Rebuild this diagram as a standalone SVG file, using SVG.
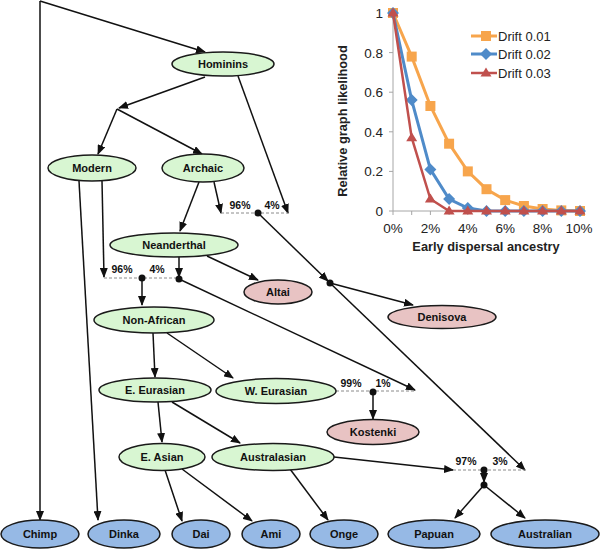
<svg xmlns="http://www.w3.org/2000/svg" width="600" height="551" viewBox="0 0 600 551">
<defs>
<marker id="ah" markerUnits="userSpaceOnUse" markerWidth="10" markerHeight="8" refX="9" refY="4" orient="auto">
<path d="M0,0 L10,4 L0,8 Z" fill="#111"/>
</marker>
</defs>
<style>
.n ellipse{stroke:#1a1a1a;stroke-width:1.5}
.g ellipse{fill:#d8f6d2}
.p ellipse{fill:#e8c3c3}
.b ellipse{fill:#96b9e5}
.n text{font-family:"Liberation Sans",Arial,sans-serif;font-weight:bold;font-size:11px;fill:#111;text-anchor:middle}
.e path{fill:none;stroke:#111;stroke-width:1.5}
.e .a{marker-end:url(#ah)}
.e .d{stroke:#8a8a8a;stroke-width:1;stroke-dasharray:3,2}
.e circle{fill:#111}
.pc{font-family:"Liberation Sans",Arial,sans-serif;font-weight:bold;font-size:10.5px;fill:#111;text-anchor:middle}
.ax{stroke:#a6a6a6;stroke-width:1;fill:none}
.tk{font-family:"Liberation Sans",Arial,sans-serif;font-size:13.5px;fill:#222}
.tt{font-family:"Liberation Sans",Arial,sans-serif;font-size:12.8px;font-weight:bold;fill:#222;text-anchor:middle}
.lg{font-family:"Liberation Sans",Arial,sans-serif;font-size:13px;fill:#222}
.s1{stroke:#f7a54c;fill:none;stroke-width:3}
.s2{stroke:#4f8bc9;fill:none;stroke-width:3}
.s3{stroke:#c0504d;fill:none;stroke-width:2.5}
</style>
<rect width="600" height="551" fill="#fff"/>

<g id="connectors" class="e">
<path class="a" d="M40,1 L40,520"/>
<path class="a" d="M40,1 L205,52"/>
<path class="a" d="M205,77 L119,108"/>
<path class="a" d="M117,109 L98,154"/>
<path class="a" d="M117,109 L202,154"/>
<path class="a" d="M238,76 L288,213"/>
<path class="a" d="M199,182 L180,231"/>
<path class="a" d="M214,182 L221,213"/>
<path class="d" d="M221,213 L288,213"/>
<circle cx="258" cy="213" r="3.5"/>
<path class="a" d="M258,213 L328,281"/>
<path class="a" d="M330,283 L413,305"/>
<path class="a" d="M330,283 L525,470"/>
<circle cx="330" cy="283" r="3.5"/>
<path class="a" d="M79,181 L98,520"/>
<path class="a" d="M102,181 L104,277"/>
<path class="d" d="M104,278 L179,278"/>
<circle cx="142" cy="278" r="3.5"/>
<path class="a" d="M179,257 L179,277"/>
<circle cx="179" cy="279" r="3.5"/>
<path class="a" d="M142,278 L142,305"/>
<path class="a" d="M179,279 L415,390"/>
<path class="a" d="M207,256 L258,280"/>
<path class="a" d="M153,333 L155,377"/>
<path class="a" d="M167,333 L233,378"/>
<path class="d" d="M336,391 L415,391"/>
<circle cx="373" cy="392" r="3.5"/>
<path class="a" d="M373,392 L373,419"/>
<path class="a" d="M158,402 L162,442"/>
<path class="a" d="M172,402 L240,443"/>
<path class="a" d="M165,470 L182,521"/>
<path class="a" d="M182,469 L252,521"/>
<path class="a" d="M290,469 L328,520"/>
<path class="a" d="M334,457 L453,470"/>
<path class="d" d="M453,470 L525,470"/>
<circle cx="484" cy="470" r="3.5"/>
<path class="a" d="M484,470 L484,482"/>
<circle cx="484" cy="485" r="3.5"/>
<path class="a" d="M484,485 L455,518"/>
<path class="a" d="M484,485 L525,518"/>
</g>

<g id="pct">
<text class="pc" x="240" y="209">96%</text>
<text class="pc" x="272" y="209">4%</text>
<text class="pc" x="122" y="273">96%</text>
<text class="pc" x="157" y="273">4%</text>
<text class="pc" x="351" y="387">99%</text>
<text class="pc" x="383" y="387">1%</text>
<text class="pc" x="466" y="465">97%</text>
<text class="pc" x="500" y="465">3%</text>
</g>

<g id="hominins" class="n g"><ellipse cx="223" cy="64" rx="51" ry="12"/><text x="223" y="68">Hominins</text></g>
<g id="modern" class="n g"><ellipse cx="92" cy="168" rx="44" ry="13"/><text x="92" y="172">Modern</text></g>
<g id="archaic" class="n g"><ellipse cx="203" cy="168" rx="41" ry="14"/><text x="203" y="172">Archaic</text></g>
<g id="neanderthal" class="n g"><ellipse cx="174" cy="245" rx="64" ry="12"/><text x="174" y="249">Neanderthal</text></g>
<g id="altai" class="n p"><ellipse cx="278" cy="292" rx="34" ry="12"/><text x="278" y="296">Altai</text></g>
<g id="denisova" class="n p"><ellipse cx="442" cy="317" rx="54" ry="11.5"/><text x="442" y="321">Denisova</text></g>
<g id="nonafrican" class="n g"><ellipse cx="154" cy="320" rx="60" ry="13"/><text x="154" y="324">Non-African</text></g>
<g id="eeurasian" class="n g"><ellipse cx="155" cy="390" rx="56" ry="12"/><text x="155" y="394">E. Eurasian</text></g>
<g id="weurasian" class="n g"><ellipse cx="276" cy="391" rx="60" ry="12.5"/><text x="276" y="395">W. Eurasian</text></g>
<g id="kostenki" class="n p"><ellipse cx="373" cy="432" rx="46" ry="12.5"/><text x="373" y="436">Kostenki</text></g>
<g id="easian" class="n g"><ellipse cx="162" cy="457" rx="43" ry="13.5"/><text x="162" y="461">E. Asian</text></g>
<g id="australasian" class="n g"><ellipse cx="273" cy="457" rx="61" ry="13.5"/><text x="273" y="461">Australasian</text></g>
<g id="chimp" class="n b"><ellipse cx="40" cy="534" rx="39" ry="14"/><text x="40" y="538">Chimp</text></g>
<g id="dinka" class="n b"><ellipse cx="124" cy="534" rx="36" ry="14"/><text x="124" y="538">Dinka</text></g>
<g id="dai" class="n b"><ellipse cx="201" cy="534" rx="29" ry="14"/><text x="201" y="538">Dai</text></g>
<g id="ami" class="n b"><ellipse cx="271" cy="534" rx="29" ry="14"/><text x="271" y="538">Ami</text></g>
<g id="onge" class="n b"><ellipse cx="344" cy="534" rx="34" ry="14"/><text x="344" y="538">Onge</text></g>
<g id="papuan" class="n b"><ellipse cx="434" cy="534" rx="46" ry="14"/><text x="434" y="538">Papuan</text></g>
<g id="australian" class="n b"><ellipse cx="545" cy="534" rx="54" ry="14"/><text x="545" y="538">Australian</text></g>

<g id="chart">
<path class="ax" d="M393,13 L393,211 L580,211"/>
<path class="ax" d="M389,13 H393 M389,52.6 H393 M389,92.2 H393 M389,131.8 H393 M389,171.4 H393 M389,211 H393"/>
<path class="ax" d="M393,211 V215 M411.7,211 V215 M430.4,211 V215 M449.1,211 V215 M467.8,211 V215 M486.5,211 V215 M505.2,211 V215 M523.9,211 V215 M542.6,211 V215 M561.3,211 V215 M580,211 V215"/>
<g class="tk" text-anchor="end">
<text x="383" y="18">1</text>
<text x="383" y="57.6">0.8</text>
<text x="383" y="97.2">0.6</text>
<text x="383" y="136.8">0.4</text>
<text x="383" y="176.4">0.2</text>
<text x="383" y="216">0</text>
</g>
<g class="tk" text-anchor="middle">
<text x="393" y="233">0%</text>
<text x="430.4" y="233">2%</text>
<text x="467.8" y="233">4%</text>
<text x="505.2" y="233">6%</text>
<text x="542.6" y="233">8%</text>
<text x="579" y="233">10%</text>
</g>
<text class="tt" x="486" y="251">Early dispersal ancestry</text>
<text class="tt" transform="translate(347,121) rotate(-90)">Relative graph likelihood</text>

<polyline class="s1" points="393,13 411.7,56.6 430.4,106 449.1,143.7 467.8,171.4 486.5,189.2 505.2,200.1 523.9,206 542.6,209 561.3,210.4 580,211"/>
<g fill="#f7a54c">
<rect x="388" y="8" width="10" height="10"/><rect x="406.7" y="51.6" width="10" height="10"/><rect x="425.4" y="101" width="10" height="10"/><rect x="444.1" y="138.7" width="10" height="10"/><rect x="462.8" y="166.4" width="10" height="10"/><rect x="481.5" y="184.2" width="10" height="10"/><rect x="500.2" y="195.1" width="10" height="10"/><rect x="518.9" y="201" width="10" height="10"/><rect x="537.6" y="204" width="10" height="10"/><rect x="556.3" y="205.4" width="10" height="10"/><rect x="575" y="206" width="10" height="10"/>
</g>
<polyline class="s2" points="393,13 411.7,100.1 430.4,169.4 449.1,199 467.8,208 486.5,211 505.2,211 523.9,211 542.6,211 561.3,211 580,211"/>
<g fill="#4f8bc9">
<path d="M393,7 l6,6 l-6,6 l-6,-6z M411.7,94.1 l6,6 l-6,6 l-6,-6z M430.4,163.4 l6,6 l-6,6 l-6,-6z M449.1,193 l6,6 l-6,6 l-6,-6z M467.8,202 l6,6 l-6,6 l-6,-6z M486.5,205 l6,6 l-6,6 l-6,-6z M505.2,205 l6,6 l-6,6 l-6,-6z M523.9,205 l6,6 l-6,6 l-6,-6z M542.6,205 l6,6 l-6,6 l-6,-6z M561.3,205 l6,6 l-6,6 l-6,-6z M580,205 l6,6 l-6,6 l-6,-6z"/>
</g>
<polyline class="s3" points="393,13 411.7,137.7 430.4,199 449.1,211 467.8,211 486.5,211 505.2,211 523.9,211 542.6,211 561.3,211 580,211"/>
<g fill="#c0504d">
<path d="M393,7.5 l5.5,9 h-11z M411.7,132.2 l5.5,9 h-11z M430.4,193.5 l5.5,9 h-11z M449.1,205.5 l5.5,9 h-11z M467.8,205.5 l5.5,9 h-11z M486.5,205.5 l5.5,9 h-11z M505.2,205.5 l5.5,9 h-11z M523.9,205.5 l5.5,9 h-11z M542.6,205.5 l5.5,9 h-11z M561.3,205.5 l5.5,9 h-11z M580,205.5 l5.5,9 h-11z"/>
</g>

<path class="s1" d="M471,36 H497"/>
<rect x="481" y="31" width="10" height="10" fill="#f7a54c"/>
<text class="lg" x="498" y="41">Drift 0.01</text>
<path class="s2" d="M471,54 H497"/>
<path d="M486,48 l6,6 l-6,6 l-6,-6z" fill="#4f8bc9"/>
<text class="lg" x="498" y="59">Drift 0.02</text>
<path class="s3" d="M471,73 H497"/>
<path d="M486,67.5 l5.5,9 h-11z" fill="#c0504d"/>
<text class="lg" x="498" y="78">Drift 0.03</text>
</g>
</svg>
